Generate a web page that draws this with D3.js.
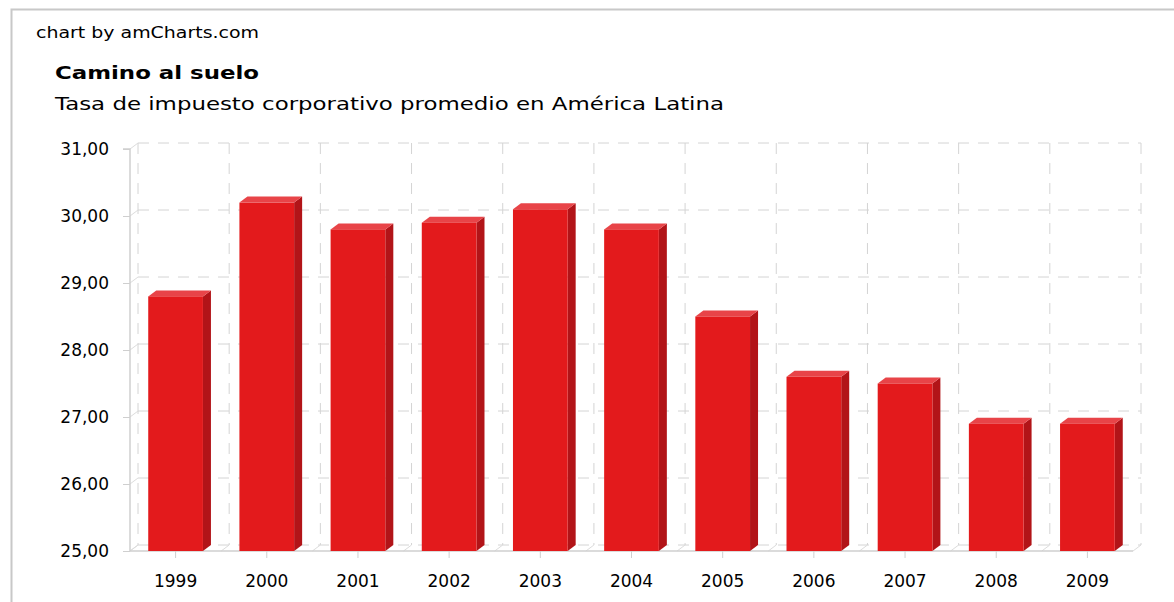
<!DOCTYPE html>
<html lang="es">
<head>
<meta charset="utf-8">
<title>Camino al suelo</title>
<script src="https://d3js.org/d3.v7.min.js"></script>
<style>
  body { margin: 0; background: #fff; }
  text { font-family: "DejaVu Sans", Arial, sans-serif; fill: #000; }
</style>
</head>
<body>
<svg width="1174" height="602" id="mainsvg"></svg>
<script>
    const years = ['1999', '2000', '2001', '2002', '2003', '2004', '2005', '2006', '2007', '2008', '2009'];
    const rates = [28.8, 30.2, 29.8, 29.9, 30.1, 29.8, 28.5, 27.6, 27.5, 26.9, 26.9];
    const yTicks = [25, 26, 27, 28, 29, 30, 31];

    const svg = d3.select('#mainsvg');
    const plotLeft = 130, plotRight = 1133, plotTop = 149, plotBottom = 551;
    const dx = 8, dy = -6; // 3d depth

    // outer frame
    svg.append('rect')
        .attr('x', 11.5).attr('y', 9.5)
        .attr('width', 1200).attr('height', 700)
        .attr('fill', 'none').attr('stroke', '#c8c8c8').attr('stroke-width', 2);

    svg.append('text').attr('x', 36).attr('y', 38)
        .attr('font-size', 15).attr('font-family', 'Liberation Sans, Arial')
        .attr('textLength', 223).attr('lengthAdjust', 'spacingAndGlyphs')
        .text('chart by amCharts.com');
    svg.append('text').attr('x', 55).attr('y', 79)
        .attr('font-size', 18).attr('font-weight', 'bold').attr('font-family', 'Liberation Sans, Arial')
        .attr('textLength', 204).attr('lengthAdjust', 'spacingAndGlyphs')
        .text('Camino al suelo');
    svg.append('text').attr('x', 55).attr('y', 110)
        .attr('font-size', 18)
        .attr('textLength', 669).attr('lengthAdjust', 'spacingAndGlyphs')
        .text('Tasa de impuesto corporativo promedio en América Latina');

    const x = d3.scaleBand().domain(years).range([plotLeft, plotRight])
        .paddingInner(0.4).paddingOuter(0.2);
    const y = d3.scaleLinear().domain([25, 31]).range([plotBottom, plotTop]);
    const step = x.step();

    const grid = svg.append('g').attr('stroke', '#d4d4d4').attr('stroke-dasharray', '11,9');
    // back wall horizontal grid
    grid.selectAll('.hg').data(yTicks).enter().append('line')
        .attr('x1', plotLeft + dx).attr('x2', plotRight + dx)
        .attr('y1', d => y(d) + dy).attr('y2', d => y(d) + dy);
    // back wall vertical grid at category boundaries
    const bounds = d3.range(years.length + 1).map(i => plotLeft + i * step);
    grid.selectAll('.vg').data(bounds).enter().append('line')
        .attr('x1', d => d + dx).attr('x2', d => d + dx)
        .attr('y1', y(31) + dy).attr('y2', plotBottom + dy);

    // floor diagonals
    svg.append('g').attr('stroke', '#dcdcdc')
        .selectAll('line').data(bounds).enter().append('line')
        .attr('x1', d => d).attr('y1', plotBottom)
        .attr('x2', d => d + dx).attr('y2', plotBottom + dy);
    // left wall diagonals at ticks
    svg.append('g').attr('stroke', '#dcdcdc')
        .selectAll('line').data(yTicks).enter().append('line')
        .attr('x1', plotLeft).attr('y1', d => y(d))
        .attr('x2', plotLeft + dx).attr('y2', d => y(d) + dy);

    // axes
    const yAxis = svg.append('g').attr('transform', `translate(${plotLeft},0)`)
        .call(d3.axisLeft(y).tickValues(yTicks).tickSize(7).tickPadding(14)
            .tickFormat(d => d3.format('.2f')(d).replace('.', ',')));
    const xAxis = svg.append('g').attr('transform', `translate(0,${plotBottom})`)
        .call(d3.axisBottom(x).tickSize(7).tickPadding(14));
    [yAxis, xAxis].forEach(a => {
        a.selectAll('.domain').attr('stroke', '#cfcfcf').attr('stroke-width', 1.5);
        a.selectAll('.tick line').attr('stroke', '#cfcfcf');
        a.selectAll('.tick text').attr('font-size', 17).attr('fill', '#111')
            .attr('font-family', '"DejaVu Sans", Arial, sans-serif');
    });
    yAxis.select('.domain').attr('d', `M-7,${plotTop}H0V${plotBottom}`);
    xAxis.select('.domain').attr('d', `M${plotLeft},0H${plotRight}`);
    xAxis.selectAll('.tick text').attr('dy', '0.9em');

    // 3d bars
    const bw = x.bandwidth();
    const bars = svg.append('g').selectAll('g').data(years).enter().append('g');
    bars.append('path') // side
        .attr('fill', '#b21418')
        .attr('d', (d, i) => {
            const x1 = x(d) + bw, yt = y(rates[i]);
            return `M${x1},${plotBottom}L${x1 + dx},${plotBottom + dy}L${x1 + dx},${yt + dy}L${x1},${yt}Z`;
        });
    bars.append('path') // top
        .attr('fill', '#e84448')
        .attr('d', (d, i) => {
            const x0 = x(d), yt = y(rates[i]);
            return `M${x0},${yt}L${x0 + dx},${yt + dy}L${x0 + bw + dx},${yt + dy}L${x0 + bw},${yt}Z`;
        });
    bars.append('rect') // front
        .attr('fill', '#e31a1c')
        .attr('x', d => x(d)).attr('width', bw)
        .attr('y', (d, i) => y(rates[i]))
        .attr('height', (d, i) => plotBottom - y(rates[i]));
</script>
</body>
</html>
